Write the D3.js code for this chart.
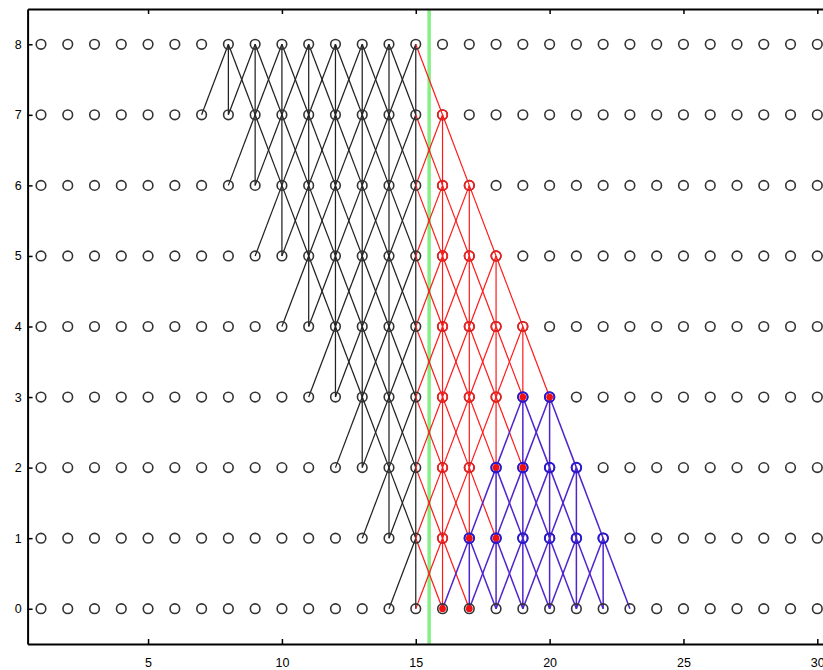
<!DOCTYPE html>
<html>
<head>
<meta charset="utf-8">
<script src="https://cdn.jsdelivr.net/npm/d3@7"></script>
<style>
  body { margin: 0; background: #fff; }
  svg { display: block; }
  .axis text { font-family: "Liberation Sans", Arial, sans-serif; font-size: 12.5px; fill: #000; }
  .axis path, .axis line { stroke: #000; }
</style>
</head>
<body>
<div id="canvas"></div>
<script>
(function () {
  // grid of nodes
  var columns = [1, 2, 3, 4, 5, 6, 7, 8, 9, 10, 11, 12, 13, 14, 15,
                 16, 17, 18, 19, 20, 21, 22, 23, 24, 25, 26, 27, 28, 29, 30];
  var levels = [0, 1, 2, 3, 4, 5, 6, 7, 8];

  // source rows: [level, first column, last column]
  // every source node links to the three nodes below it
  var blackRows = [[8, 8, 15], [7, 9, 15], [6, 10, 15], [5, 11, 15],
                   [4, 12, 15], [3, 13, 15], [2, 14, 15], [1, 15, 15]];
  var redRows = [[7, 16, 16], [6, 16, 17], [5, 16, 18], [4, 16, 19],
                 [3, 16, 18], [2, 16, 17], [1, 16, 16]];
  var blueRows = [[3, 19, 20], [2, 18, 21], [1, 17, 22]];

  // nodes marked with a red dot: [column, level]
  var redDots = [[19, 3], [20, 3], [18, 2], [19, 2], [17, 1], [18, 1], [16, 0], [17, 0]];

  var splitX = 15.5; // green divider
  var xTicks = [5, 10, 15, 20, 25, 30];
  var yTicks = [0, 1, 2, 3, 4, 5, 6, 7, 8];

  var width = 823;
  var height = 670;

  var svg = d3.select('#canvas').append('svg')
        .attr('width', width)
        .attr('height', height);

  var x = d3.scaleLinear().domain([0.5, 30.5]).range([27.6, 830.7]);
  var y = d3.scaleLinear().domain([-0.5, 8.5]).range([644, 9]);

  var cBlack = '#222';
  var cRed = '#ff1a1a';
  var cBlue = '#5024cc';

  function edgesFor (rows, color, crossColor) {
    var out = [];
    rows.forEach(function (r) {
      for (var c = r[1]; c <= r[2]; c++) {
        [-1, 0, 1].forEach(function (d) {
          var col = color;
          if (crossColor && c + d > splitX) {
            col = crossColor;
          }
          out.push({x1: c, y1: r[0], x2: c + d, y2: r[0] - 1, color: col});
        });
      }
    });
    return out;
  }

  var blackEdges = edgesFor(blackRows, cBlack, cRed);
  var redEdges = edgesFor(redRows, cRed);
  var blueEdges = edgesFor(blueRows, cBlue);

  // green divider under everything
  svg.append('line')
    .attr('x1', x(splitX))
    .attr('x2', x(splitX))
    .attr('y1', y(8.5))
    .attr('y2', y(-0.5))
    .style('stroke', '#86ef86')
    .style('stroke-width', 3.5);

  function drawEdges (list, cls, w) {
    svg.append('g').attr('class', cls)
      .selectAll('line')
      .data(list)
      .enter()
      .append('line')
      .attr('x1', function (d) { return x(d.x1); })
      .attr('y1', function (d) { return y(d.y1); })
      .attr('x2', function (d) { return x(d.x2); })
      .attr('y2', function (d) { return y(d.y2); })
      .style('stroke', function (d) { return d.color; })
      .style('stroke-width', w);
  }

  // black first, the crossing red ones sorted after
  drawEdges(blackEdges.filter(function (d) { return d.color === cBlack; }), 'black-edges', 1.25);
  drawEdges(blackEdges.filter(function (d) { return d.color !== cBlack; }).concat(redEdges), 'red-edges', 1.2);
  drawEdges(blueEdges, 'blue-edges', 1.5);

  // all nodes
  var nodes = [];
  levels.forEach(function (l) {
    columns.forEach(function (c) {
      nodes.push({x: c, y: l});
    });
  });

  svg.append('g').attr('class', 'nodes')
    .selectAll('circle')
    .data(nodes)
    .enter()
    .append('circle')
    .attr('cx', function (d) { return x(d.x); })
    .attr('cy', function (d) { return y(d.y); })
    .attr('r', 4.8)
    .style('fill', 'none')
    .style('stroke', '#333')
    .style('stroke-width', 1.6);

  function rowNodes (rows) {
    var out = [];
    rows.forEach(function (r) {
      for (var c = r[1]; c <= r[2]; c++) {
        out.push({x: c, y: r[0]});
      }
    });
    return out;
  }

  function drawRings (list, color, w) {
    svg.append('g')
      .selectAll('circle')
      .data(list)
      .enter()
      .append('circle')
      .attr('cx', function (d) { return x(d.x); })
      .attr('cy', function (d) { return y(d.y); })
      .attr('r', 4.8)
      .style('fill', 'none')
      .style('stroke', color)
      .style('stroke-width', w);
  }

  drawRings(rowNodes(redRows), cRed, 1.6);
  drawRings(rowNodes(blueRows), '#2a16d8', 1.9);

  svg.append('g').attr('class', 'red-dots')
    .selectAll('circle')
    .data(redDots)
    .enter()
    .append('circle')
    .attr('cx', function (d) { return x(d[0]); })
    .attr('cy', function (d) { return y(d[1]); })
    .attr('r', 3.4)
    .style('fill', '#f01010');

  // axes, ticks pointing inward
  svg.append('g').attr('class', 'axis')
    .attr('transform', 'translate(0,' + y(-0.5) + ')')
    .call(d3.axisBottom(x).tickValues(xTicks).tickSizeInner(-5).tickSizeOuter(0).tickPadding(14))
    .selectAll('path, line').style('stroke-width', 1.5);

  svg.append('g').attr('class', 'axis')
    .attr('transform', 'translate(0,' + y(8.5) + ')')
    .call(d3.axisTop(x).tickValues(xTicks).tickSizeInner(-5).tickSizeOuter(0).tickFormat(''))
    .selectAll('path, line').style('stroke-width', 1.5);

  svg.append('g').attr('class', 'axis')
    .attr('transform', 'translate(' + x(0.5) + ',0)')
    .call(d3.axisLeft(y).tickValues(yTicks).tickSizeInner(-5).tickSizeOuter(0).tickPadding(6))
    .selectAll('path, line').style('stroke-width', 1.5);

  svg.selectAll('.axis .domain').style('stroke-width', 2);
})();
</script>
</body>
</html>
